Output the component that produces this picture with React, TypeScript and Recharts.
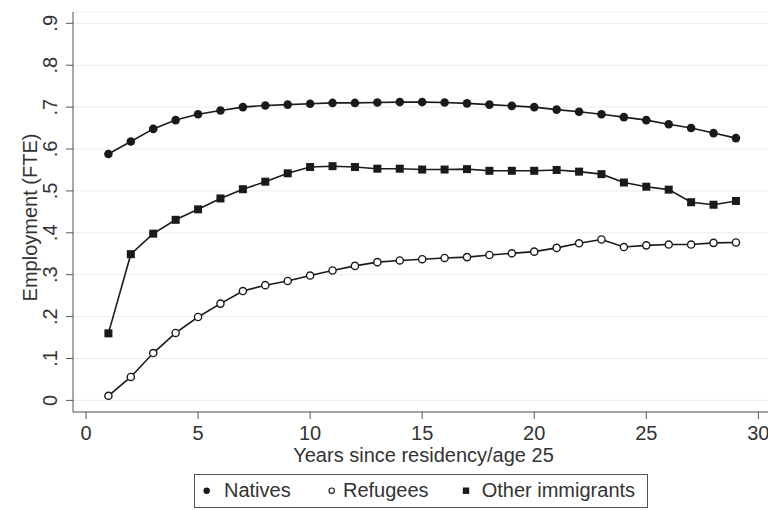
import React from 'react';
import { LineChart, Line, XAxis, YAxis, CartesianGrid, Legend } from 'recharts';

const years = [1, 2, 3, 4, 5, 6, 7, 8, 9, 10, 11, 12, 13, 14, 15, 16, 17, 18, 19, 20, 21, 22, 23, 24, 25, 26, 27, 28, 29];
const natives = [0.588, 0.618, 0.648, 0.669, 0.683, 0.692, 0.700, 0.704, 0.706, 0.708, 0.710, 0.710, 0.711, 0.712, 0.712, 0.711, 0.709, 0.706, 0.703, 0.700, 0.694, 0.689, 0.683, 0.676, 0.669, 0.659, 0.650, 0.638, 0.626];
const refugees = [0.011, 0.056, 0.113, 0.161, 0.199, 0.231, 0.261, 0.275, 0.285, 0.298, 0.310, 0.321, 0.330, 0.334, 0.337, 0.340, 0.342, 0.347, 0.351, 0.355, 0.364, 0.375, 0.384, 0.366, 0.370, 0.372, 0.372, 0.376, 0.377];
const otherImmigrants = [0.160, 0.349, 0.398, 0.431, 0.456, 0.482, 0.504, 0.522, 0.542, 0.557, 0.559, 0.557, 0.553, 0.553, 0.551, 0.551, 0.552, 0.548, 0.548, 0.548, 0.550, 0.546, 0.540, 0.520, 0.510, 0.503, 0.473, 0.467, 0.476];

const xTicks = [0, 5, 10, 15, 20, 25, 30];
const yTicks = [0, 0.1, 0.2, 0.3, 0.4, 0.5, 0.6, 0.7, 0.8, 0.9];
const seriesNames = ['Natives', 'Refugees', 'Other immigrants'];
const xTitle = 'Years since residency/age 25';
const yTitle = 'Employment (FTE)';

const data = years.map((y, i) => ({
  year: y,
  natives: natives[i],
  refugees: refugees[i],
  other: otherImmigrants[i],
}));

const FONT = '"Liberation Sans", Arial, Helvetica, sans-serif';
const TEXT = '#333333';
const AXIS = '#555555';
const LINE = '#1a1a1a';

const fmtY = (v: number) => (v === 0 ? '0' : '.' + Math.round(v * 10));

const YTick = (props: any) => {
  const { x, y, payload } = props;
  return (
    <text
      x={x}
      y={y}
      transform={`rotate(-90 ${x} ${y})`}
      textAnchor="middle"
      fill={TEXT}
      fontSize={20}
      fontFamily={FONT}
    >
      {fmtY(payload.value)}
    </text>
  );
};

const XTick = (props: any) => {
  const { x, y, payload } = props;
  return (
    <text x={x} y={y + 19.5} textAnchor="middle" fill={TEXT} fontSize={20} fontFamily={FONT}>
      {String(payload.value)}
    </text>
  );
};

const NativeDot = (props: any) => {
  const { cx, cy, index } = props;
  if (cx == null || cy == null) return <g key={index} />;
  return <circle key={index} cx={cx} cy={cy} r={4.3} fill={LINE} />;
};
const RefugeeDot = (props: any) => {
  const { cx, cy, index } = props;
  if (cx == null || cy == null) return <g key={index} />;
  return <circle key={index} cx={cx} cy={cy} r={3.6} fill="#ffffff" stroke={LINE} strokeWidth={1.4} />;
};
const OtherDot = (props: any) => {
  const { cx, cy, index } = props;
  if (cx == null || cy == null) return <g key={index} />;
  return <rect key={index} x={cx - 4} y={cy - 4} width={8} height={8} fill={LINE} />;
};

const LegendContent = () => {
  const items = [
    { name: seriesNames[0], mx: 12.7, tx: 30, kind: 'fill' },
    { name: seriesNames[1], mx: 137.7, tx: 149, kind: 'hollow' },
    { name: seriesNames[2], mx: 272, tx: 287.7, kind: 'square' },
  ];
  return (
    <svg width={454} height={34} style={{ display: 'block' }}>
      <rect x={0.5} y={0.5} width={453} height={33} fill="#ffffff" stroke={AXIS} strokeWidth={1} />
      {items.map((it) => (
        <g key={it.name}>
          {it.kind === 'fill' && <circle cx={it.mx} cy={16.7} r={3.2} fill={LINE} />}
          {it.kind === 'hollow' && <circle cx={it.mx} cy={16.7} r={2.7} fill="#fff" stroke={LINE} strokeWidth={1.1} />}
          {it.kind === 'square' && <rect x={it.mx - 3.2} y={13.5} width={6.4} height={6.4} fill={LINE} />}
          <text x={it.tx} y={23.3} fill={TEXT} fontSize={20} fontFamily={FONT}>
            {it.name}
          </text>
        </g>
      ))}
    </svg>
  );
};

export default function App() {
  return (
    <div style={{ position: 'absolute', left: 0, top: 0, width: 768, height: 510, background: '#ffffff' }}>
      <LineChart width={768} height={510} data={data} margin={{ top: 12, right: 0, bottom: 38, left: 0 }}>
        <CartesianGrid horizontal vertical={false} stroke="#ececec" strokeWidth={1} />
        <XAxis
          dataKey="year"
          type="number"
          domain={[-0.58, 30.43]}
          allowDataOverflow
          ticks={xTicks}
          interval={0}
          height={60}
          tickSize={7}
          tickMargin={1}
          stroke={AXIS}
          tick={<XTick />}
          label={{
            content: (p: any) => {
              const vb = p.viewBox || { x: 73, y: 412, width: 695, height: 60 };
              return (
                <text x={vb.x + vb.width / 2 + 3} y={vb.y + 49.5} textAnchor="middle" fill={TEXT} fontSize={20} fontFamily={FONT}>
                  {xTitle}
                </text>
              );
            },
          }}
        />
        <YAxis
          type="number"
          domain={[-0.0277, 0.927]}
          allowDataOverflow
          ticks={yTicks}
          interval={0}
          width={73}
          tickSize={7}
          tickMargin={9}
          stroke={AXIS}
          tick={<YTick />}
          label={{
            content: (p: any) => {
              const vb = p.viewBox || { x: 0, y: 12, width: 73, height: 400 };
              const cx = vb.x + 36.5;
              const cy = vb.y + vb.height / 2 + 5.5;
              return (
                <text x={cx} y={cy} transform={`rotate(-90 ${cx} ${cy})`} textAnchor="middle" fill={TEXT} fontSize={20} fontFamily={FONT}>
                  {yTitle}
                </text>
              );
            },
          }}
        />
        <Legend
          layout="horizontal"
          verticalAlign="middle"
          align="center"
          wrapperStyle={{ top: 474, left: 194, width: 454, height: 34 }}
          content={<LegendContent />}
        />
        <Line dataKey="natives" name={seriesNames[0]} stroke={LINE} strokeWidth={1.6} dot={<NativeDot />} isAnimationActive={false} />
        <Line dataKey="refugees" name={seriesNames[1]} stroke={LINE} strokeWidth={1.6} dot={<RefugeeDot />} isAnimationActive={false} />
        <Line dataKey="other" name={seriesNames[2]} stroke={LINE} strokeWidth={1.6} dot={<OtherDot />} isAnimationActive={false} />
      </LineChart>
    </div>
  );
}
